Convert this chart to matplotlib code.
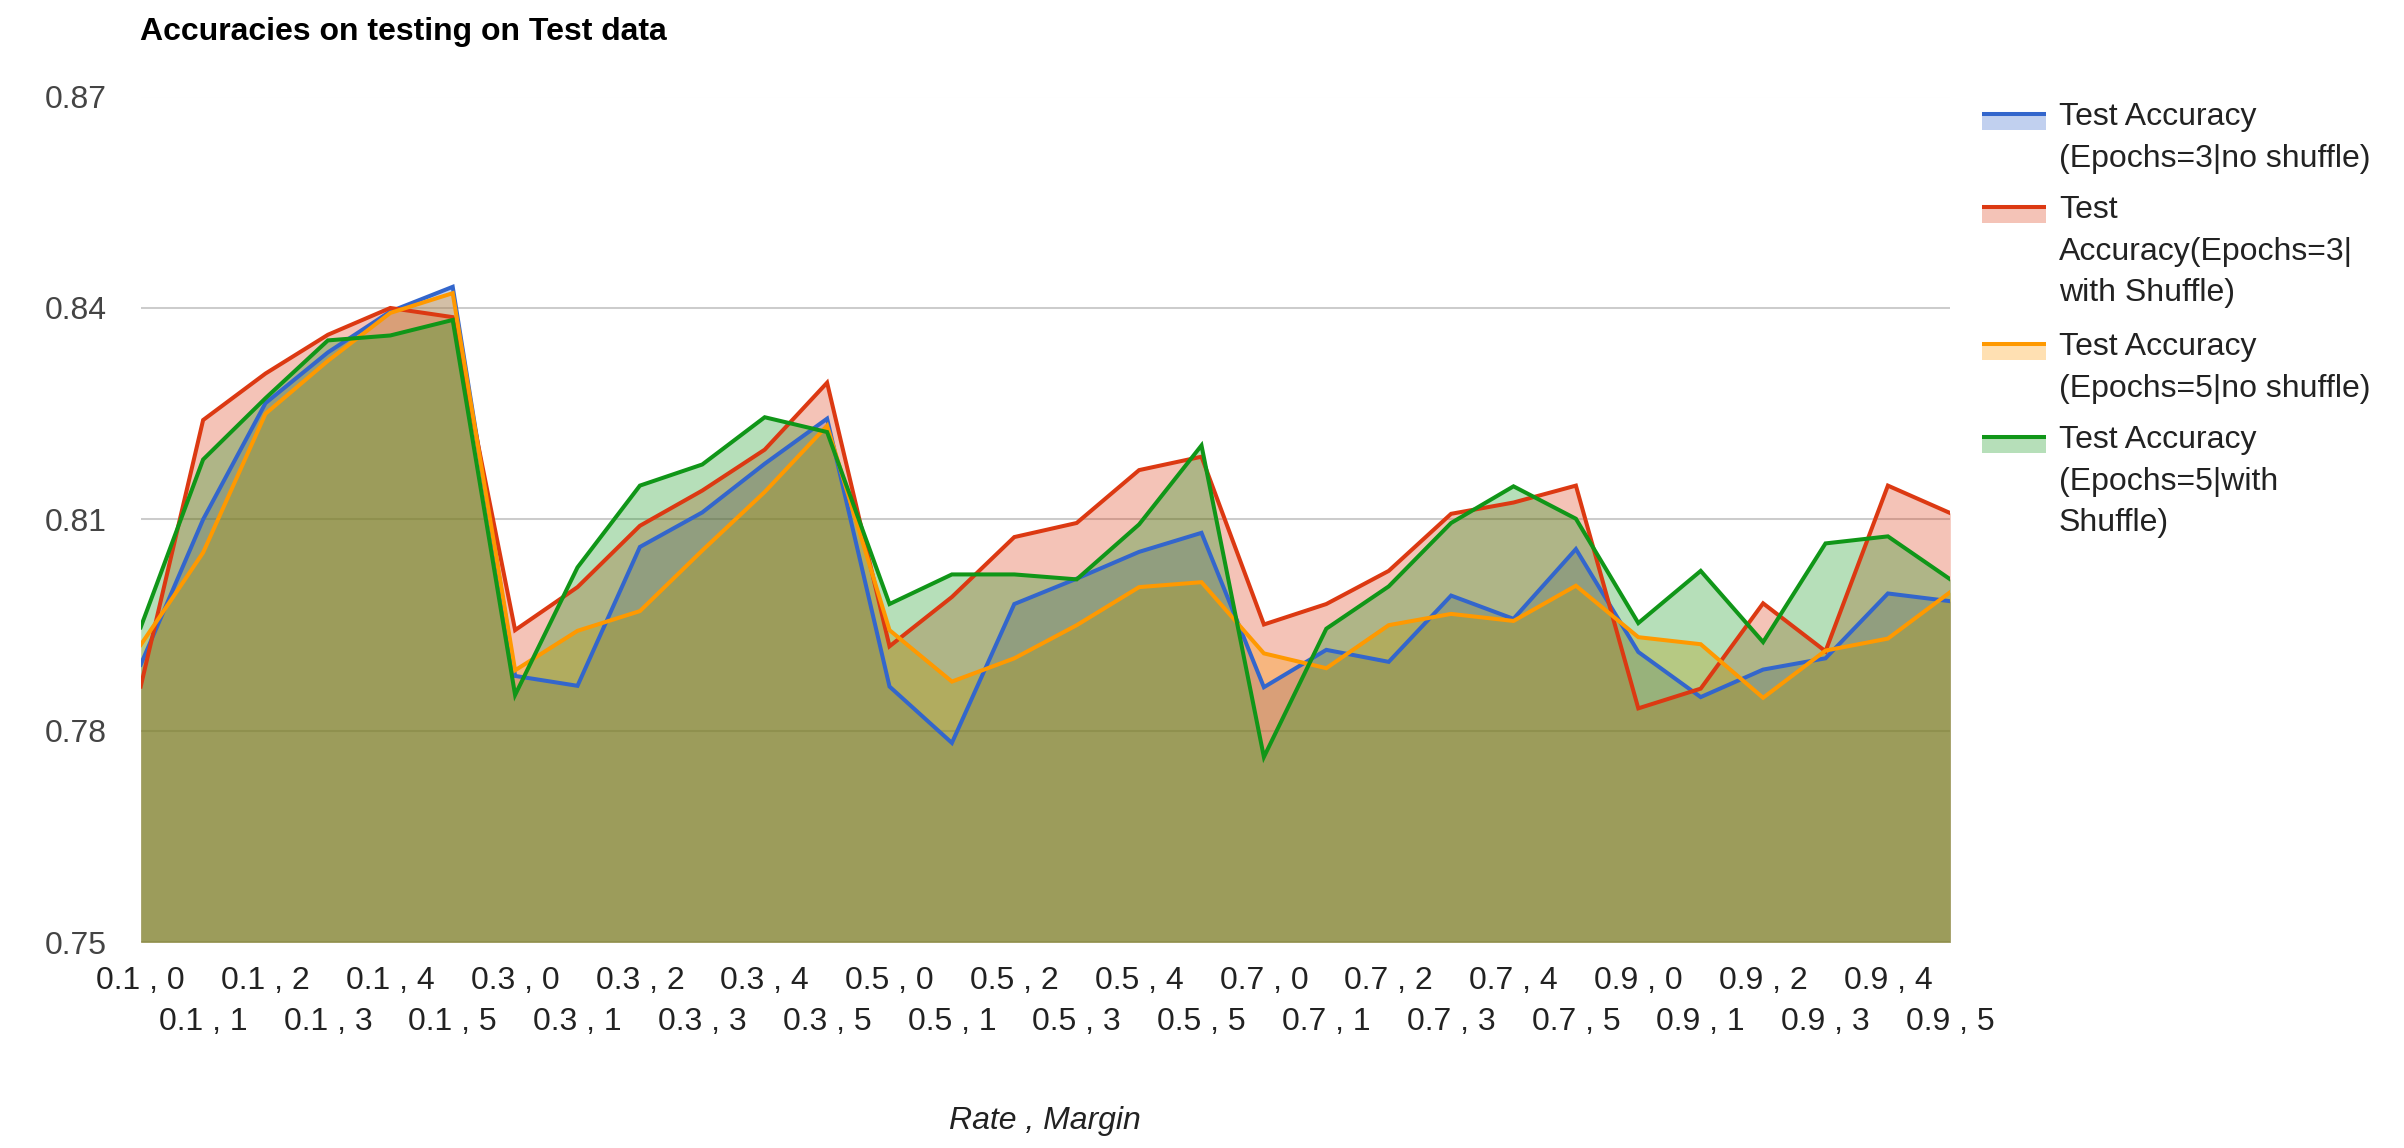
import matplotlib
matplotlib.use('Agg')
import matplotlib.pyplot as plt
from matplotlib.patches import Rectangle
from matplotlib.lines import Line2D

plt.rcParams['font.family'] = ['Liberation Sans', 'DejaVu Sans']

# ---------------- data ----------------
rates = ['0.1', '0.3', '0.5', '0.7', '0.9']
margins = ['0', '1', '2', '3', '4', '5']
categories = [f'{r} , {m}' for r in rates for m in margins]

acc_e3_no_shuffle = [0.7894, 0.8100, 0.8265, 0.8337, 0.8395, 0.8430,
                     0.7878, 0.7864, 0.8061, 0.8110, 0.8179, 0.8243,
                     0.7863, 0.7783, 0.7980, 0.8016, 0.8054, 0.8081,
                     0.7862, 0.7915, 0.7898, 0.7992, 0.7959, 0.8058,
                     0.7912, 0.7848, 0.7887, 0.7903, 0.7995, 0.7984]
acc_e3_shuffle = [0.7863, 0.8241, 0.8307, 0.8362, 0.8400, 0.8387,
                  0.7943, 0.8004, 0.8091, 0.8141, 0.8199, 0.8294,
                  0.7920, 0.7990, 0.8075, 0.8095, 0.8170, 0.8189,
                  0.7951, 0.7980, 0.8027, 0.8108, 0.8124, 0.8148,
                  0.7832, 0.7860, 0.7981, 0.7913, 0.8148, 0.8109]
acc_e5_no_shuffle = [0.7922, 0.8053, 0.8250, 0.8325, 0.8393, 0.8421,
                     0.7886, 0.7942, 0.7970, 0.8056, 0.8139, 0.8233,
                     0.7943, 0.7870, 0.7903, 0.7950, 0.8004, 0.8011,
                     0.7910, 0.7889, 0.7950, 0.7966, 0.7956, 0.8006,
                     0.7933, 0.7923, 0.7847, 0.7914, 0.7931, 0.7997]
acc_e5_shuffle = [0.7947, 0.8185, 0.8272, 0.8354, 0.8361, 0.8383,
                  0.7851, 0.8032, 0.8148, 0.8178, 0.8245, 0.8224,
                  0.7980, 0.8022, 0.8022, 0.8015, 0.8093, 0.8205,
                  0.7763, 0.7945, 0.8005, 0.8095, 0.8147, 0.8101,
                  0.7953, 0.8027, 0.7926, 0.8066, 0.8076, 0.8015]

series_labels = [
    ['Test Accuracy', '(Epochs=3|no shuffle)'],
    ['Test', 'Accuracy(Epochs=3|', 'with Shuffle)'],
    ['Test Accuracy', '(Epochs=5|no shuffle)'],
    ['Test Accuracy', '(Epochs=5|with', 'Shuffle)'],
]
series_values = [acc_e3_no_shuffle, acc_e3_shuffle, acc_e5_no_shuffle, acc_e5_shuffle]
colors = ['#3366cc', '#dc3912', '#ff9900', '#109618']

y_ticks = [0.75, 0.78, 0.81, 0.84, 0.87]
y_tick_labels = ['0.75', '0.78', '0.81', '0.84', '0.87']
title = 'Accuracies on testing on Test data'
x_title = 'Rate , Margin'

# ---------------- layout ----------------
W, H = 2404, 1148
DPI = 100
FS = 23  # ~32 px


def fx(px):
    return px / W


def fy(py):
    return 1 - py / H


fig = plt.figure(figsize=(W / DPI, H / DPI), dpi=DPI)
ax = fig.add_axes([fx(140.7), fy(942.4), fx(1950.3) - fx(140.7), fy(96.5) - fy(942.4)])

x = list(range(len(categories)))
base = y_ticks[0]

for vals, c in zip(series_values, colors):
    ax.fill_between(x, base, vals, color=c, alpha=0.3, linewidth=0, zorder=1)
for vals, c in zip(series_values, colors):
    ax.plot(x, vals, color=c, linewidth=2.9, zorder=3, solid_joinstyle='miter')

ax.set_xlim(0, len(categories) - 1)
ax.set_ylim(y_ticks[0], y_ticks[-1])
ax.set_yticks(y_ticks)
ax.set_yticklabels(y_tick_labels)
ax.grid(axis='y', color='#cccccc', linewidth=1.45, zorder=0.5)
ax.set_axisbelow(True)
for s in ax.spines.values():
    s.set_visible(False)

even = [i for i in x if i % 2 == 0]
odd = [i for i in x if i % 2 == 1]
ax.set_xticks(even)
ax.set_xticklabels([categories[i] for i in even])
ax.set_xticks(odd, minor=True)
ax.set_xticklabels([categories[i] for i in odd], minor=True)
ax.tick_params(axis='x', which='major', length=0, pad=17.3, labelsize=FS, labelcolor='#222222')
ax.tick_params(axis='x', which='minor', length=0, pad=46.6, labelsize=FS, labelcolor='#222222')
ax.tick_params(axis='y', length=0, pad=24.5, labelsize=FS, labelcolor='#444444')

# title
fig.text(fx(140), fy(40), title, fontsize=FS, fontweight='bold', color='#000000',
         ha='left', va='baseline')
# x-axis title
fig.text(fx(1045), fy(1129), x_title, fontsize=FS, fontstyle='italic', color='#222222',
         ha='center', va='baseline')

# legend
first_baselines = [125, 218, 355, 448]
line_step = 41.7
for lines, c, b in zip(series_labels, colors, first_baselines):
    top = b - 13
    fig.add_artist(Rectangle((fx(1982), fy(top + 18)), fx(2046) - fx(1982), fy(top) - fy(top + 18),
                             transform=fig.transFigure, facecolor=c, alpha=0.3, linewidth=0))
    fig.add_artist(Line2D([fx(1982), fx(2046)], [fy(top + 2), fy(top + 2)],
                          transform=fig.transFigure, color=c, linewidth=2.9,
                          solid_capstyle='butt'))
    for k, t in enumerate(lines):
        fig.text(fx(2059), fy(b + k * line_step), t, fontsize=FS, color='#222222',
                 ha='left', va='baseline')

fig.savefig('out.png', dpi=DPI)
